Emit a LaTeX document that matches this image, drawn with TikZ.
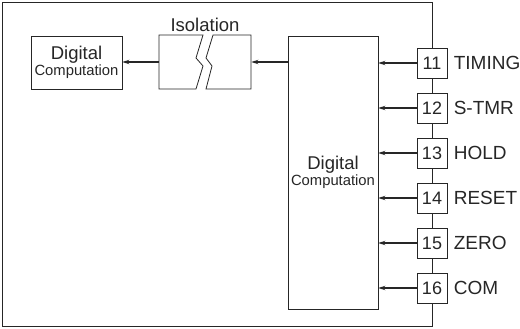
\documentclass[tikz,border=0pt]{standalone}
\usepackage{fontspec}
\setmainfont{Liberation Sans}
\usetikzlibrary{arrows.meta,positioning}

\newcommand\bigtxt{\fontsize{18.5}{21}\selectfont}
\newcommand\smtxt{\fontsize{14.8}{19}\selectfont}

\begin{document}
\begin{tikzpicture}[x=1pt, y=-1pt, >=Stealth, color=black!85, line width=0.8pt,
  box/.style={draw, fill=white, align=center, inner sep=0pt},
  term/.style={box, minimum width=30pt, minimum height=30pt, font=\fontsize{18}{20}\selectfont},
  sig/.style={->, line width=1.5pt, >={Stealth[length=7pt, width=4.5pt]}}]
  \useasboundingbox (0,0) rectangle (520,329);

  % outer frame
  \draw (2,2) rectangle (432,326);

  % left computation block
  \node[box, minimum width=91pt, minimum height=53pt] (dcl) at (76.5,62.5)
    {{\bigtxt Digital}\\{\smtxt Computation}};

  % isolation barrier
  \node[minimum width=92pt, minimum height=54pt, inner sep=0pt] (iso) at (205,62) {};
  \draw (203,35) -- (159,35) -- (159,89) -- (196,89) -- (203,66) -- (196,58) -- cycle;
  \draw (213,35) -- (251,35) -- (251,89) -- (206,89) -- (212,66) -- (206,58) -- cycle;
  \node[above=3pt of iso, font=\bigtxt, inner sep=0pt] (isolbl) {Isolation};

  % main computation block
  \node[box, minimum width=90pt, minimum height=273pt] (dcm) at (333,172.5)
    {{\bigtxt Digital}\\{\smtxt Computation}};

  \draw[sig] (iso.east -| dcm.west) -- (iso.east);
  \draw[sig] (iso.west) -- (iso.west -| dcl.east);

  % terminals
  \foreach \n/\lab [count=\i from 0] in {11/TIMING, 12/S-TMR, 13/HOLD, 14/RESET, 15/ZERO, 16/COM} {
    \node[term] (t\n) at (432,{63+45*\i}) {\n};
    \node[right=6pt of t\n, font=\fontsize{19}{21}\selectfont, inner sep=0pt] (l\n) {\lab};
    \draw[sig] (t\n.west) -- (t\n.west -| dcm.east);
  }
\end{tikzpicture}
\end{document}
